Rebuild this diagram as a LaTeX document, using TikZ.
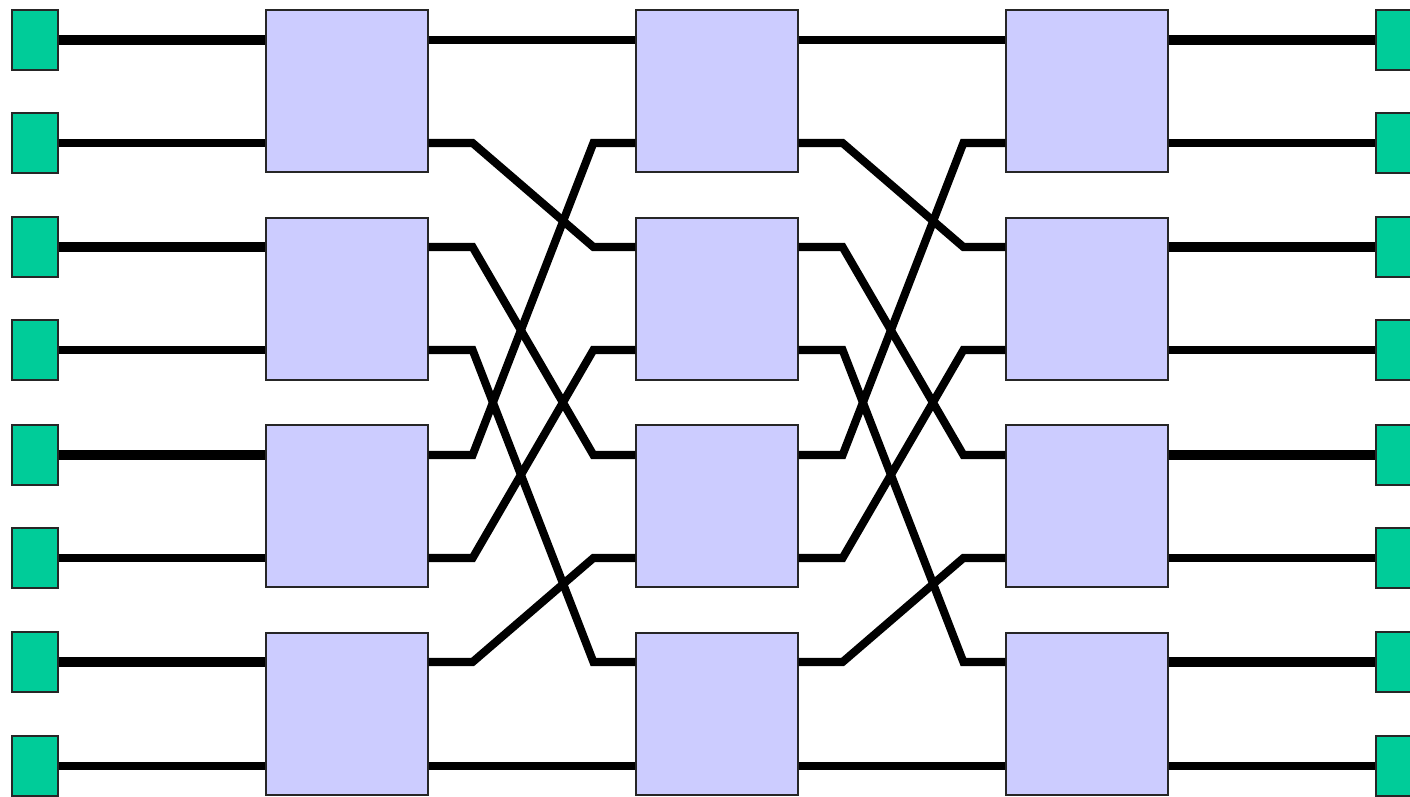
\documentclass[tikz,border=0pt]{standalone}
\usepackage{xcolor}
\usepackage{tikz}
\usetikzlibrary{calc}
\definecolor{termgreen}{HTML}{00CC99}
\definecolor{swfill}{HTML}{CCCCFF}

\begin{document}
\begin{tikzpicture}[x=0.02cm,y=-0.02cm,
  term/.style={draw=black!85,line width=0.7pt,fill=termgreen,inner sep=0pt,minimum width=0.92cm,minimum height=1.2cm},
  switch/.style={draw=black!85,line width=0.7pt,fill=swfill,inner sep=0pt,minimum size=3.24cm},
  wire0/.style={line width=5.2pt},
  wire1/.style={line width=4.2pt},
  shuffle/.style={line width=4.6pt}]
  \clip (0,0) rectangle (1410,797);
  % terminals
  \foreach \i/\y in {0/40,1/143,2/247,3/350,4/455,5/558,6/662,7/766}{
    \node[term] (in\i) at (35,\y) {};
    \node[term] (out\i) at (1399,\y) {};
  }
  % switches
  \foreach \c/\x in {1/347,2/717,3/1087}{
    \foreach \r/\y in {0/91,1/299,2/506,3/714}{
      \node[switch] (s\c\r) at (\x,\y) {};
    }
  }
  % inputs and outputs
  \foreach \i in {0,...,7}{
    \pgfmathtruncatemacro\b{int(\i/2)}
    \pgfmathtruncatemacro\p{mod(\i,2)}
    \draw[wire\p] (in\i.east) -- (in\i.east -| s1\b.west);
    \draw[wire\p] (out\i.west -| s3\b.east) -- (out\i.west);
  }
  % perfect shuffle between stages
  \foreach \s/\t in {1/2,2/3}{
    \foreach \i/\j in {0/0,1/2,2/4,3/6,4/1,5/3,6/5,7/7}{
      \pgfmathtruncatemacro\b{int(\i/2)}
      \pgfmathtruncatemacro\d{int(\j/2)}
      \draw[shuffle] (s\s\b.east |- in\i) -- ++(44,0)
        -- ($(s\t\d.west |- in\j)+(-42,0)$) -- (s\t\d.west |- in\j);
    }
  }
\end{tikzpicture}
\end{document}
